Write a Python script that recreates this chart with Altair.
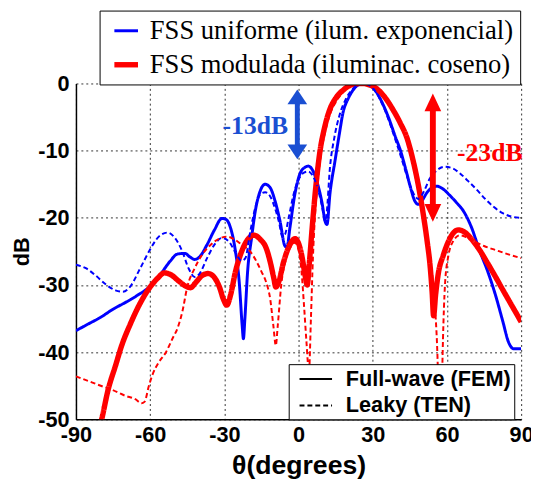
import altair as alt
import pandas as pd

SERIES = ["FSS uniforme (ilum. exponencial)", "FSS modulada (iluminac. coseno)"]
METHODS = ["Full-wave (FEM)", "Leaky (TEN)"]
X_TICKS = [-90, -60, -30, 0, 30, 60, 90]
Y_TICKS = [0, -10, -20, -30, -40, -50]

# (theta [deg], level [dB])
uniforme_fem = [(-90,-36.8),(-85,-35.8),(-80,-34.8),(-75,-33.6),(-70,-32.6),(-65,-31.5),(-60,-30.2),(-56,-28.5),
    (-52,-26.5),(-49,-25.4),(-46,-25.3),(-44,-25.8),(-42,-26.2),(-40,-25.8),(-37,-24),(-34,-21.8),(-31,-20.1),
    (-29.5,-20.2),(-27.5,-21.5),(-25.5,-25),(-24,-29.5),(-22.8,-36),(-22.3,-38),(-21.7,-35),(-20.6,-28),(-19,-23),
    (-17.5,-19),(-15.5,-16),(-13.5,-15),(-11.5,-15.5),(-9.5,-17.5),(-7.5,-20.5),(-5.5,-24.2),(-4.7,-24.4),
    (-3.5,-21.5),(-1.5,-16.5),(0.5,-13.5),(2.5,-12.5),(4,-12.3),(5.5,-12.8),(7.5,-14.7),(9.5,-17.8),(10.8,-20.6),
    (11.5,-21),(12.7,-16.4),(14.7,-11.6),(16.5,-7.5),(18,-4.3),(20,-2.3),(22,-1),(24,-0.25),(26.5,0),(29,-0.3),
    (31.5,-1.3),(34,-3),(36.5,-5.2),(39,-7.8),(41.3,-10.1),(43.5,-13),(45.5,-15.8),(47,-17.5),(48.5,-18),
    (50,-17.4),(52,-16.2),(54,-15.5),(56,-15.3),(58,-15.6),(61,-16.6),(64,-17.8),(66.5,-18.9),(70,-21.5),
    (73,-24.7),(76.5,-28),(79.7,-31.6),(82.5,-35.3),(85,-38.6),(87,-39.5),(90,-39.5)]

uniforme_ten = [(-90,-27),(-86,-27.5),(-82,-28.6),(-78,-29.9),(-74,-30.8),(-71,-31),(-68,-30.2),(-64,-27.5),
    (-60,-24.7),(-56.5,-22.8),(-53,-22.2),(-50,-23),(-47,-25),(-44.5,-27.5),(-42,-28.8),(-40,-28.3),(-37,-26),
    (-34,-24),(-31,-23),(-28,-23.6),(-25.5,-25.2),(-23,-26.4),(-21.5,-26),(-19.5,-22),(-17.5,-18.5),(-15.5,-16.5),
    (-13.5,-16.2),(-11.5,-16.8),(-9.5,-18.6),(-8,-20.5),(-6.5,-22.8),(-5.5,-22.5),(-4,-20),(-2,-16.5),(0,-14.3),
    (2,-13.3),(4,-13.1),(5.5,-13.6),(7.5,-15.3),(9.5,-18.3),(10.7,-20.5),(11.3,-19.5),(12.7,-12.5),(14.5,-8),
    (16.5,-4.8),(19,-2.4),(21.5,-1),(24,-0.2),(26.5,0),(29,-0.35),(31.5,-1.4),(34,-3.2),(36.5,-5.5),(39,-8.2),
    (41.5,-11),(44,-14),(46.5,-16.4),(48.5,-17.2),(50.5,-16.2),(53,-14.2),(56,-12.9),(59,-12.4),(62,-12.6),
    (65,-13.3),(68.5,-14.5),(72,-15.8),(75.5,-17.2),(79,-18.4),(82.5,-19.3),(86,-19.8),(90,-20)]

modulada_fem = [(-81,-52),(-79.6,-50),(-77,-45.6),(-74,-42),(-71.5,-39),(-68,-35.8),(-65,-33.4),(-62,-31.4),
    (-60,-30.3),(-57,-29),(-54.3,-28.2),(-51.5,-28.5),(-48.5,-29.4),(-45.5,-30.2),(-43.7,-30.4),(-41.5,-29.6),
    (-39,-28.6),(-36.5,-28.3),(-34,-28.9),(-32,-30.3),(-30.3,-32.2),(-29,-33),(-27.5,-31.5),(-25.5,-28),(-23,-25),
    (-20.5,-23.2),(-18,-22.6),(-15.5,-23.2),(-13,-24.6),(-11.5,-26.5),(-10,-29),(-9.2,-30.3),(-8,-29.5),(-6,-26.5),
    (-3.5,-24),(-1.5,-23.1),(0,-23.8),(1.5,-26),(2.7,-28.7),(3.5,-30),(4.3,-27),(5.5,-21.5),(7,-15.3),(8.7,-10),
    (10.5,-6.6),(12.5,-4),(15,-2.2),(18,-1),(21.5,-0.2),(25.5,0),(29,-0.25),(32,-0.9),(35,-2.1),(38,-3.8),
    (41,-5.8),(44,-8.3),(46,-11),(48.5,-15.3),(50.6,-19.9),(52,-23.5),(53.2,-27.2),(54,-31),(54.6,-34.6),
    (55.4,-31.5),(56.5,-28.3),(58.5,-25.6),(60.5,-23.6),(62.5,-22.3),(64.5,-21.8),(67,-22.1),(70,-23.2),
    (73.2,-24.8),(76.5,-26.8),(79.5,-28.7),(82.4,-30.6),(85.5,-32.6),(88,-34.2),(90,-35.5)]

modulada_ten = [(-90,-43.6),(-85,-44.3),(-80,-45),(-75.5,-45.6),(-70,-46.5),(-66,-47),(-63.5,-47.6),(-62.3,-47.4),
    (-60.5,-45),(-59,-43.3),(-56.5,-41.5),(-53.6,-40),(-51,-38),(-48.8,-36.3),(-47,-34),(-45,-30.3),(-42,-27.5),
    (-39,-25.5),(-35.5,-24),(-32,-23.1),(-29,-22.8),(-26,-23.2),(-23,-24),(-19.8,-24.9),(-17,-26.5),(-15,-28),
    (-13.1,-29.6),(-11.5,-32),(-10.2,-36),(-9.2,-39),(-8.4,-36),(-7,-30),(-5,-26),(-3,-24.2),(-1.5,-23.7),
    (0,-24.8),(1.2,-28),(2.2,-33),(3.2,-38.5),(4.2,-43),(5,-35),(5.8,-26),(6.6,-20),(7.8,-14.5),(9.3,-10),
    (11,-6.8),(13,-4.3),(15.5,-2.5),(18.5,-1.1),(22,-0.25),(25.5,0),(29,-0.25),(32,-0.9),(35,-2.1),(38,-3.9),
    (41,-6.1),(44,-8.8),(46,-11.6),(48.5,-15.8),(50.5,-19.7),(52.5,-24.3),(54.2,-29),(55.3,-34),(56.2,-41),
    (56.8,-50),(57.3,-55),(57.8,-48),(58.4,-38),(59.2,-30),(60.5,-25.8),(62.5,-23.5),(65.2,-22.6),(68,-22.9),
    (71,-23.5),(75,-24.2),(79.7,-24.8),(84.5,-25.4),(90,-26)]

# annotations: arrow position, tips, text
blue_arrow = {"theta": -0.5, "tip_top": -0.9, "tip_bot": -11.3}
red_arrow = {"theta": 54.3, "tip_top": -1.5, "tip_bot": -20.6}
labels_ann = [("-13dB", -17.5, -6.3, "#1a4fd2"), ("-23dB", 77.3, -10.3, "#ff0000")]

BLUE = "#0000ff"
RED = "#ff0000"
ABLUE = "#1a4fd2"


def frame(pairs, series, method):
    return pd.DataFrame({"theta": [p[0] for p in pairs], "db": [p[1] for p in pairs],
                         "series": series, "method": method})


fem = pd.concat([frame(uniforme_fem, SERIES[0], METHODS[0]), frame(modulada_fem, SERIES[1], METHODS[0])])
ten = pd.concat([frame(uniforme_ten, SERIES[0], METHODS[1]), frame(modulada_ten, SERIES[1], METHODS[1])])

x_scale = alt.Scale(domain=[-90, 90], nice=False, zero=False)
y_scale = alt.Scale(domain=[-50, 0], nice=False, zero=False)

x_axis = alt.Axis(values=X_TICKS, title="θ(degrees)", labelExpr="'' + datum.value",
                  labelFont="Liberation Sans", labelFontWeight="bold", labelFontSize=22, labelColor="black",
                  labelPadding=6, ticks=False, tickSize=0, domainColor="black", domainWidth=1.5,
                  grid=True, gridColor="#333333", gridDash=[2, 3], gridWidth=1, gridOpacity=1,
                  titleFont="Liberation Sans", titleFontWeight="bold", titleFontSize=27, titleColor="black",
                  titlePadding=7, labelFlush=False, labelOverlap=False)
y_axis = alt.Axis(values=Y_TICKS, title="dB", labelExpr="'' + datum.value",
                  labelFont="Liberation Sans", labelFontWeight="bold", labelFontSize=22, labelColor="black",
                  labelPadding=7, ticks=False, tickSize=0, domainColor="black", domainWidth=1.5,
                  grid=True, gridColor="#333333", gridDash=[2, 3], gridWidth=1, gridOpacity=1,
                  titleFont="Liberation Sans", titleFontWeight="bold", titleFontSize=22, titleColor="black",
                  titlePadding=4, labelFlush=False, labelOverlap=False)

X = alt.X("theta:Q", scale=x_scale, axis=x_axis)
Y = alt.Y("db:Q", scale=y_scale, axis=y_axis)

leg_series = alt.Legend(title=None, orient="none", legendX=24, legendY=-74, direction="vertical",
                        symbolType="stroke", symbolSize=576, labelFont="Liberation Serif", labelFontSize=27,
                        labelColor="black", labelLimit=1000, rowPadding=6, padding=7, symbolOffset=5,
                        labelOffset=9, strokeColor="black", fillColor="white", cornerRadius=0)
leg_method = alt.Legend(title=None, orient="none", legendX=216, legendY=285, direction="vertical",
                        symbolType="M-1.5,0L1.5,0", symbolSize=484, symbolStrokeColor="black",
                        symbolStrokeWidth=2, labelFont="Liberation Sans", labelFontWeight="bold",
                        labelFontSize=22, labelColor="black", labelLimit=1000, rowPadding=4, padding=3,
                        symbolOffset=12.5, labelOffset=18.5, strokeColor="black", fillColor="white",
                        cornerRadius=0)

color_scale = alt.Scale(domain=SERIES, range=[BLUE, RED])
dash_scale = alt.Scale(domain=METHODS, range=[[1, 0], [5, 3]])

solid = alt.Chart(fem).mark_line(clip=True, interpolate="monotone", strokeJoin="round").encode(
    x=X, y=Y,
    color=alt.Color("series:O", scale=color_scale, sort=SERIES, legend=leg_series),
    strokeWidth=alt.StrokeWidth("series:O", scale=alt.Scale(domain=SERIES, range=[3, 5.5]), sort=SERIES,
                                legend=leg_series),
    strokeDash=alt.StrokeDash("method:N", scale=dash_scale, sort=METHODS, legend=leg_method),
)
dashed = alt.Chart(ten).mark_line(clip=True, interpolate="monotone", strokeWidth=2).encode(
    x=X, y=Y,
    color=alt.Color("series:O", scale=color_scale, sort=SERIES, legend=leg_series),
    strokeDash=alt.StrokeDash("method:N", scale=dash_scale, sort=METHODS, legend=leg_method),
)


def arrow(spec, color, shaft_w, head_size, head_len_db, up_shape, down_shape):
    shaft_df = pd.DataFrame({"theta": [spec["theta"]], "db": [spec["tip_top"] - head_len_db],
                             "db2": [spec["tip_bot"] + head_len_db]})
    up_df = pd.DataFrame({"theta": [spec["theta"]], "db": [spec["tip_top"]]})
    down_df = pd.DataFrame({"theta": [spec["theta"]], "db": [spec["tip_bot"]]})
    shaft = alt.Chart(shaft_df).mark_rule(color=color, strokeWidth=shaft_w).encode(
        x=alt.X("theta:Q", scale=x_scale), y=alt.Y("db:Q", scale=y_scale), y2="db2:Q")
    up = alt.Chart(up_df).mark_point(shape=up_shape, size=head_size, filled=True, color=color, opacity=1,
                                     strokeWidth=0).encode(x=alt.X("theta:Q", scale=x_scale),
                                                            y=alt.Y("db:Q", scale=y_scale))
    down = alt.Chart(down_df).mark_point(shape=down_shape, size=head_size, filled=True, color=color, opacity=1,
                                         strokeWidth=0).encode(x=alt.X("theta:Q", scale=x_scale),
                                                                y=alt.Y("db:Q", scale=y_scale))
    return [shaft, up, down]


blue_parts = arrow(blue_arrow, ABLUE, 5, 400, 2.0, "M0,0L-1,1.5L1,1.5Z", "M0,0L-1,-1.5L1,-1.5Z")
red_parts = arrow(red_arrow, RED, 6, 289, 2.4, "M0,0L-1,2.12L1,2.12Z", "M0,0L-1,-2.12L1,-2.12Z")

text_layers = []
for txt, th, db, col in labels_ann:
    tdf = pd.DataFrame({"theta": [th], "db": [db], "label": [txt]})
    text_layers.append(alt.Chart(tdf).mark_text(font="Liberation Serif", fontWeight="bold", fontSize=26,
                                                color=col, align="center", baseline="middle").encode(
        x=alt.X("theta:Q", scale=x_scale), y=alt.Y("db:Q", scale=y_scale), text="label:N"))

chart = alt.layer(solid, dashed, *blue_parts, *red_parts, *text_layers).properties(
    width=452, height=341,
    padding={"left": 69, "top": 73, "right": 10, "bottom": 59},
    autosize=alt.AutoSizeParams(type="none"),
    background="white",
).configure_view(stroke=None)

chart.save("out.html", embed_options={"renderer": "svg", "actions": False})
